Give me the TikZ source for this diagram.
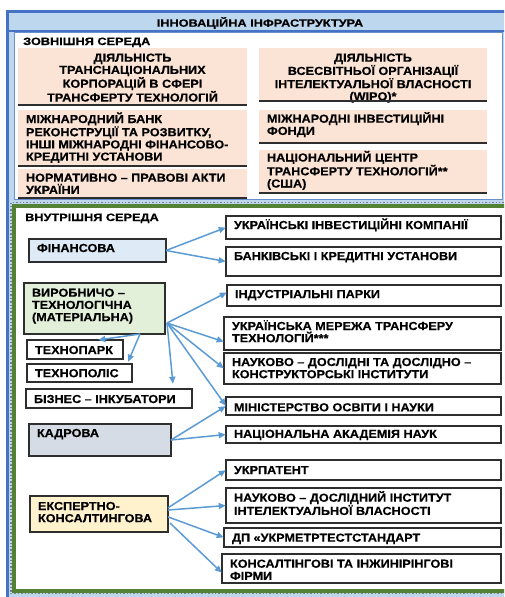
\documentclass[tikz,border=0pt]{standalone}
\usepackage{fontspec}
\setmainfont{Liberation Sans}[FakeStretch=1.09,FakeBold=0.4]
\newfontfamily\hdf{Liberation Sans}[FakeStretch=1.2,FakeBold=0.4]
\usetikzlibrary{arrows.meta,calc,shadows}
\definecolor{dblue}{HTML}{4472C4}
\definecolor{lblue}{HTML}{BDD7EE}
\definecolor{peach}{HTML}{FBE3D5}
\definecolor{gfr}{HTML}{548235}
\definecolor{finc}{HTML}{DEEBF7}
\definecolor{vyrc}{HTML}{E2F0D9}
\definecolor{kadc}{HTML}{D6DCE5}
\definecolor{eksc}{HTML}{FFF2CC}
\definecolor{arr}{HTML}{5B9BD5}
\definecolor{bord}{HTML}{2E2E2E}
\newcommand\ibox[8]{\node[#2,anchor=north west,inner sep=0pt,outer sep=0pt] (#1) at (#3,#4) {\parbox[c][#6pt][t]{#5pt}{\fontsize{11.6}{12.2}\selectfont\bfseries\rule{0pt}{#7pt}#8}};}
\newcommand\lft{\raggedright\leftskip=8pt\relax}
\newcommand\ctr{\centering}
\tikzset{
  peachb/.style={fill=peach},
  wbox/.style={fill=white, draw=bord, line width=1.1pt,
    drop shadow={shadow xshift=1.2pt,shadow yshift=-1.2pt,fill=black!60,opacity=0.85}},
  finb/.style={wbox, fill=finc},
  vyrb/.style={wbox, fill=vyrc},
  kadb/.style={wbox, fill=kadc},
  eksb/.style={wbox, fill=eksc},
  conn/.style={draw=arr, line width=1.5pt, -{Triangle[length=7pt,width=6pt]}, shorten >=0.3pt},
  hd/.style={inner sep=0pt, font=\hdf\bfseries\fontsize{10.6}{12}\selectfont}
}
\begin{document}
\begin{tikzpicture}[x=1pt,y=-1pt]
\useasboundingbox (0,0) rectangle (504,597);
\clip (0,0) rectangle (504,597);
\fill[white] (0,0) rectangle (504,597);
% outer frame
\draw[dblue, fill=lblue, line width=3.5pt] (7.5,11.5) rectangle (540,640);
\draw[dblue, line width=2pt] (7.5,31) -- (540,31);
\draw[dblue!80, line width=0.9pt, fill=white] (14.5,32) rectangle (502,199);
% lower panel
\draw[gray, dotted, line width=1.4pt] (11,202.5) rectangle (560,593.5);
\draw[gfr, line width=4pt, fill=white] (14,206) rectangle (560,590.5);

% headings
\node[hd, anchor=base, font=\hdf\bfseries\fontsize{10.6}{12}\selectfont] (title) at (260,26.7) {ІННОВАЦІЙНА ІНФРАСТРУКТУРА};
\node[hd, anchor=base west] (zovn) at (23,45) {ЗОВНІШНЯ СЕРЕДА};
\node[hd, anchor=base west] (vnutr) at (25,221) {ВНУТРІШНЯ СЕРЕДА};

% external environment
\ibox{ext1}{peachb}{18}{48}{229}{57}{13.7}{\ctr ДІЯЛЬНІСТЬ\\ТРАНСНАЦІОНАЛЬНИХ\\КОРПОРАЦІЙ В СФЕРІ\\ТРАНСФЕРТУ ТЕХНОЛОГІЙ}
\ibox{ext2}{peachb}{259}{48}{228}{53}{13.7}{\ctr ДІЯЛЬНІСТЬ\\ВСЕСВІТНЬОЇ ОРГАНІЗАЦІЇ\\ІНТЕЛЕКТУАЛЬНОЇ ВЛАСНОСТІ\\(WIPO)*}
\ibox{ext3}{peachb}{18}{110}{229}{56}{13}{\lft МІЖНАРОДНИЙ БАНК\\РЕКОНСТРУЦІЇ ТА РОЗВИТКУ,\\ІНШІ МІЖНАРОДНІ ФІНАНСОВО-\\КРЕДИТНІ УСТАНОВИ}
\ibox{ext4}{peachb}{18}{169}{229}{29}{12.7}{\lft НОРМАТИВНО – ПРАВОВІ АКТИ\\УКРАЇНИ}
\ibox{ext5}{peachb}{259}{110}{228}{33}{12.7}{\lft МІЖНАРОДНІ ІНВЕСТИЦІЙНІ\\ФОНДИ}
\ibox{ext6}{peachb}{259}{150}{228}{43}{11.5}{\lft НАЦІОНАЛЬНИЙ ЦЕНТР\\ТРАНСФЕРТУ ТЕХНОЛОГІЙ**\\(США)}
\foreach \b in {ext1,ext2,ext3,ext4,ext5,ext6}
  \draw[bord, line width=1.1pt] (\b.south west) -- (\b.south east);

% internal environment: left
\ibox{fin}{finb}{29}{239}{137}{23}{13}{\lft ФІНАНСОВА}
\ibox{vyr}{vyrb}{24}{283}{141}{51}{13.7}{\lft ВИРОБНИЧО –\\ТЕХНОЛОГІЧНА\\(МАТЕРІАЛЬНА)}
\ibox{tp}{wbox}{27}{340}{96}{19}{14}{\lft ТЕХНОПАРК}
\ibox{tpl}{wbox}{27}{364}{105}{18}{13.2}{\lft ТЕХНОПОЛІС}
\ibox{biz}{wbox}{26}{389}{166}{19}{14}{\lft БІЗНЕС – ІНКУБАТОРИ}
\ibox{kad}{kadb}{29}{424}{142}{32}{13}{\lft КАДРОВА}
\ibox{eks}{eksb}{30}{496}{138}{36}{14}{\lft ЕКСПЕРТНО-\\КОНСАЛТИНГОВА}

% internal environment: right
\ibox{ukrinv}{wbox}{226}{216}{275}{23}{13}{\lft УКРАЇНСЬКІ ІНВЕСТИЦІЙНІ КОМПАНІЇ}
\ibox{bank2}{wbox}{226}{247}{275}{29}{13}{\lft БАНКІВСЬКІ І КРЕДИТНІ УСТАНОВИ}
\ibox{ind}{wbox}{227}{285}{274}{21}{13}{\lft ІНДУСТРІАЛЬНІ ПАРКИ}
\ibox{mer}{wbox}{224}{317}{277}{33}{13}{\lft УКРАЇНСЬКА МЕРЕЖА ТРАНСФЕРУ\\ТЕХНОЛОГІЙ***}
\ibox{ndki}{wbox}{224}{353}{277}{31}{13}{\lft НАУКОВО – ДОСЛІДНІ ТА ДОСЛІДНО –\\КОНСТРУКТОРСЬКІ ІНСТИТУТИ}
\ibox{min}{wbox}{226}{397}{275}{18}{14.3}{\lft МІНІСТЕРСТВО ОСВІТИ І НАУКИ}
\ibox{nan}{wbox}{226}{426}{275}{17}{11.8}{\lft НАЦІОНАЛЬНА АКАДЕМІЯ НАУК}
\ibox{ukp}{wbox}{226}{460}{275}{20}{14}{\lft УКРПАТЕНТ}
\ibox{ndiiv}{wbox}{226}{488}{275}{35}{13.7}{\lft НАУКОВО – ДОСЛІДНИЙ ІНСТИТУТ\\ІНТЕЛЕКТУАЛЬНОЇ ВЛАСНОСТІ}
\ibox{dp}{wbox}{224}{528}{277}{19}{13.7}{\lft ДП «УКРМЕТРТЕСТСТАНДАРТ}
\ibox{kons}{wbox}{222}{554}{279}{29}{13.7}{\lft КОНСАЛТІНГОВІ ТА ІНЖИНІРІНГОВІ\\ФІРМИ}

% connectors
\coordinate (vo) at ($(vyr.south east)+(2,-11)$);
\coordinate (vb) at ($(vyr.south west)+(116,0)$);
\draw[conn] (fin.east) -- (ukrinv.west);
\draw[conn] (fin.east) -- (bank2.west);
\draw[conn] (vo) -- ($(ind.north west)!0.35!(ind.south west)$);
\draw[conn] (vo) -- ($(mer.north west)!0.75!(mer.south west)$);
\draw[conn] (vo) -- (ndki.west);
\draw[conn] (vo) -- (min.west);
\draw[conn] (vo) -- ($(biz.north east)+(-19,-5)$);
\draw[conn] (vb) -- ($(tp.north west)+(71,0)$);
\draw[conn] (vb) -- ($(tpl.north east)+(-4,-2)$);
\draw[conn] (kad.east) -- (min.west);
\draw[conn] (kad.east) -- (nan.west);
\draw[conn] ($(eks.north east)!0.33!(eks.south east)$) -- (ukp.west);
\draw[conn] ($(eks.north east)!0.39!(eks.south east)$) -- (ndiiv.west);
\draw[conn] ($(eks.north east)!0.58!(eks.south east)$) -- (dp.west);
\draw[conn] ($(eks.north east)!0.75!(eks.south east)+(2,0)$) -- ($(kons.north west)!0.65!(kons.south west)$);
\end{tikzpicture}
\end{document}
